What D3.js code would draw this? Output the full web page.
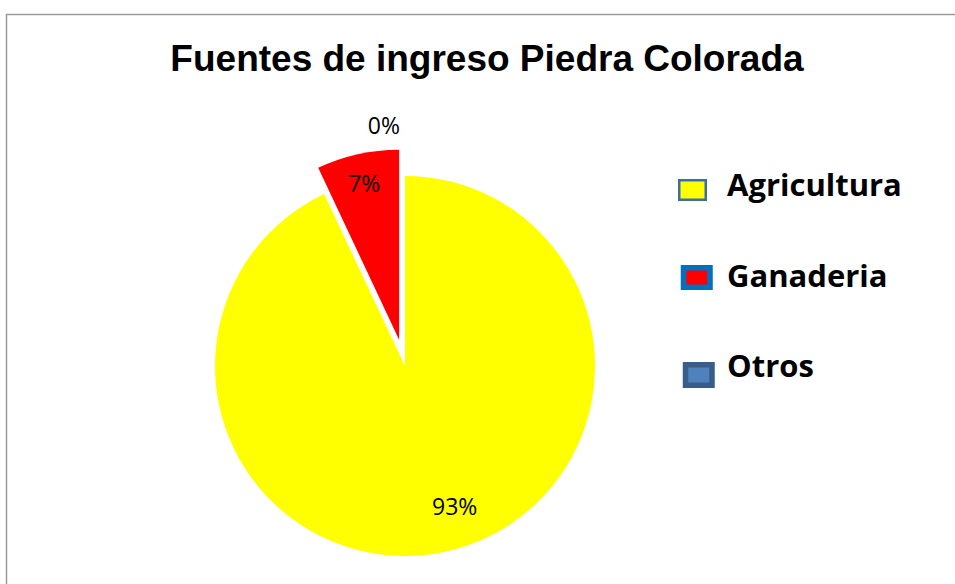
<!DOCTYPE html>
<html><head><meta charset="utf-8">
<script src="https://cdn.jsdelivr.net/npm/d3@7"></script>
<style>html,body{margin:0;padding:0;background:#fff;overflow:hidden}</style>
</head><body>
<svg id="chart" width="955" height="584"></svg>
<script>
const title = "Fuentes de ingreso Piedra Colorada";
const categories = ["Agricultura", "Ganaderia", "Otros"];
const values = [93, 7, 0];
const colors = ["#FFFF00", "#FF0000", "#4F81BD"];
const borderColors = ["#3B6EA8", "#0070C0", "#385D8A"];
const exploded = [0, 1, 0];

const svg = d3.select("#chart");
svg.append("rect").attr("x", 6.5).attr("y", 14.5).attr("width", 1000).attr("height", 1000)
  .attr("fill", "#fff").attr("stroke", "#9a9a9a").attr("stroke-width", 1.5);

svg.append("text").attr("x", 487).attr("y", 71).attr("text-anchor", "middle")
  .attr("font-family", "Liberation Sans, Arial, sans-serif").attr("font-weight", "bold")
  .attr("font-size", 37).attr("fill", "#000").text(title);

const cx = 405, cy = 366, r = 190, explodeDist = 27;
const total = d3.sum(values);
const pie = d3.pie().sort(null).value(d => d)(values);
const arc = d3.arc().innerRadius(0).outerRadius(r);
const g = svg.append("g").attr("transform", `translate(${cx},${cy})`);

function offset(d, i) {
  const a = (d.startAngle + d.endAngle) / 2;
  const e = exploded[i] ? explodeDist : 0;
  return [Math.sin(a) * e, -Math.cos(a) * e];
}

g.selectAll("path").data(pie).enter().append("path")
  .attr("d", arc)
  .attr("fill", (d, i) => colors[i])
  .attr("transform", (d, i) => { const o = offset(d, i); return `translate(${o[0]},${o[1]})`; });

// labels
const pct = v => Math.round(v / total * 100) + "%";
const labelRadius = [150, 160, r + 50];
const labelAdjust = [[17, -5], [0, 0], [-5, 0]];
const anchors = ["middle", "middle", "end"];
g.selectAll("text.lbl").data(pie).enter().append("text").attr("class", "lbl")
  .each(function (d, i) {
    const a = (d.startAngle + d.endAngle) / 2;
    const o = offset(d, i);
    const x = o[0] + Math.sin(a) * labelRadius[i] + labelAdjust[i][0];
    const y = o[1] - Math.cos(a) * labelRadius[i] + labelAdjust[i][1];
    d3.select(this).attr("x", x).attr("y", y).attr("dy", "0.35em")
      .attr("text-anchor", anchors[i]);
  })
  .attr("font-family", "Open Sans, sans-serif").attr("font-size", 23).attr("fill", "#000")
  .text(d => pct(d.value));

// legend
const legY = d3.scalePoint().domain(categories).range([196, 377]);
const lg = svg.append("g");
const markerSpec = [
  {x: 679.25, w: 26.5, h: 19.5, sw: 2.5, dy: -6},
  {x: 683.5, w: 26.5, h: 19.5, sw: 5.5, dy: -9},
  {x: 685.5, w: 26.5, h: 20.5, sw: 5.5, dy: -2}
];
categories.forEach((c, i) => {
  const y = legY(c);
  const m = markerSpec[i];
  lg.append("rect").attr("x", m.x).attr("y", y + m.dy - m.h / 2).attr("width", m.w).attr("height", m.h)
    .attr("fill", colors[i]).attr("stroke", borderColors[i]).attr("stroke-width", m.sw);
  lg.append("text").attr("x", 727).attr("y", y)
    .attr("font-family", "Open Sans, sans-serif").attr("font-weight", "bold")
    .attr("font-size", 31).attr("fill", "#000").text(c);
});
</script>
</body></html>
